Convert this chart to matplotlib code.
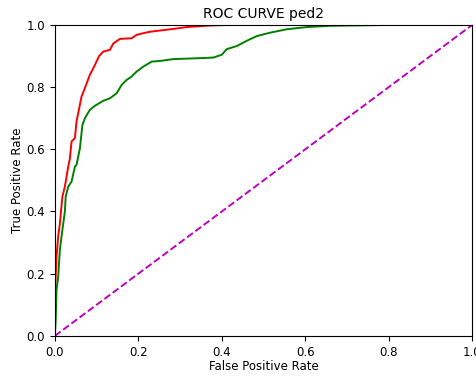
import matplotlib
matplotlib.use("Agg")
import matplotlib.pyplot as plt

red_fpr = [0.0, 0.0, 0.0, 0.004, 0.008, 0.012, 0.018, 0.024, 0.032, 0.036, 0.04, 0.048, 0.052,
           0.064, 0.072, 0.084, 0.096, 0.106, 0.116, 0.132, 0.14, 0.156, 0.184, 0.196, 0.211,
           0.228, 0.284, 0.316, 0.372, 0.42, 1.0]
red_tpr = [0.0, 0.05, 0.126, 0.255, 0.32, 0.36, 0.448, 0.48, 0.544, 0.57, 0.625, 0.636, 0.69,
           0.77, 0.797, 0.84, 0.871, 0.90, 0.914, 0.92, 0.94, 0.955, 0.957, 0.968, 0.973,
           0.978, 0.987, 0.993, 0.998, 1.0, 1.0]

green_fpr = [0.0, 0.002, 0.004, 0.008, 0.012, 0.018, 0.024, 0.026, 0.032, 0.04, 0.048, 0.052,
             0.06, 0.066, 0.072, 0.084, 0.096, 0.116, 0.132, 0.148, 0.16, 0.172, 0.184, 0.196,
             0.212, 0.232, 0.252, 0.284, 0.348, 0.38, 0.40, 0.412, 0.436, 0.46, 0.484, 0.516,
             0.556, 0.604, 0.66, 0.81, 1.0]
green_tpr = [0.0, 0.05, 0.148, 0.19, 0.277, 0.34, 0.40, 0.448, 0.48, 0.496, 0.544, 0.55,
             0.603, 0.678, 0.70, 0.727, 0.74, 0.756, 0.764, 0.78, 0.807, 0.823, 0.834, 0.85,
             0.866, 0.882, 0.884, 0.89, 0.893, 0.895, 0.904, 0.922, 0.932, 0.949, 0.964, 0.975,
             0.986, 0.993, 0.997, 1.0, 1.0]

diag = [0.0, 1.0]

fig = plt.figure(figsize=(4.77, 3.77), dpi=100)
ax = fig.add_axes([0.115, 0.109, 0.875, 0.825])
ax.plot(red_fpr, red_tpr, color='r', lw=1.4)
ax.plot(green_fpr, green_tpr, color='g', lw=1.4)
ax.plot(diag, diag, color='m', ls='--', lw=1.4)
ax.set_xlim(0, 1)
ax.set_ylim(0, 1)
ax.set_title("ROC CURVE ped2", fontsize=10, pad=5)
ax.set_xlabel("False Positive Rate", fontsize=8.5, labelpad=1)
ax.set_ylabel("True Positive Rate", fontsize=8.5, labelpad=2)
ax.tick_params(labelsize=8.5)
fig.savefig("out.png", dpi=100)
